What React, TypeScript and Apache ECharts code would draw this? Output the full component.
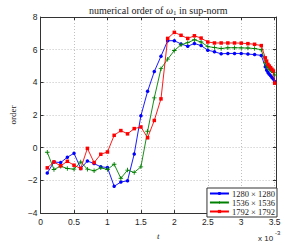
import React, { useEffect, useRef } from "react";
import * as echarts from "echarts";

const times = [0.1, 0.2, 0.3, 0.4, 0.5, 0.6, 0.7, 0.8, 0.9, 1.0, 1.1, 1.2, 1.3, 1.4, 1.5, 1.6, 1.7, 1.8, 1.9, 2.0, 2.1, 2.2, 2.3, 2.4, 2.5, 2.6, 2.7, 2.8, 2.9, 3.0, 3.1, 3.2, 3.3, 3.36, 3.38, 3.4, 3.42, 3.44, 3.46, 3.48, 3.5];

const order1280 = [-1.55, -0.87, -0.91, -0.58, -0.34, -1.27, -0.81, -0.97, -1.17, -1.21, -2.36, -2.1, -2.02, -0.38, 1.96, 3.45, 4.66, 5.6, 6.55, 6.55, 6.35, 6.21, 6.38, 6.25, 5.97, 5.87, 5.75, 5.77, 5.77, 5.77, 5.73, 5.7, 5.65, 4.95, 4.75, 4.6, 4.5, 4.4, 4.3, 4.2, 4.05];
const order1536 = [-0.28, -1.33, -1.13, -1.27, -1.31, -0.87, -1.31, -1.41, -1.23, -1.33, -1.01, -1.87, -1.37, -1.51, -1.17, 1.01, 3.05, 4.84, 5.42, 5.95, 6.3, 6.43, 6.61, 6.47, 6.19, 6.13, 6.07, 6.12, 6.12, 6.11, 6.1, 6.07, 6.0, 5.2, 5.0, 4.9, 4.8, 4.75, 4.7, 4.6, 4.45];
const order1792 = [-1.23, -0.87, -1.11, -0.83, -1.07, -1.27, -0.04, -0.91, -0.4, -0.26, 0.76, 1.05, 0.85, 1.17, 1.27, 0.61, 1.67, 2.99, 6.69, 7.06, 6.88, 6.69, 6.85, 6.71, 6.47, 6.41, 6.41, 6.41, 6.41, 6.4, 6.37, 6.33, 6.25, 5.5, 5.3, 5.1, 5.0, 4.9, 4.8, 4.7, 3.95];

const seriesNames = ["1280 × 1280", "1536 × 1536", "1792 × 1792"];
const seriesColors = ["#0000ff", "#008000", "#ff0000"];

const PLUS = "path://M1.6,0H2.4V1.6H4V2.4H2.4V4H1.6V2.4H0V1.6H1.6Z";

export default function App() {
  const ref = useRef<HTMLDivElement>(null);
  useEffect(() => {
    const chart = echarts.init(ref.current!, null, { renderer: "svg" });
    const sans = "Liberation Sans";
    const serif = "Liberation Serif";
    const axisCol = "#333";
    const pair = (ys: number[]) => times.map((t, i) => [t, ys[i]]);
    const values = [order1280, order1536, order1792];
    const symbols = ["circle", PLUS, "rect"];
    const sizes = [3.5, 4.5, 3.5];
    const commonX = {
      type: "value",
      min: 0,
      max: 3.52,
      interval: 0.5,
      axisLine: { show: true, onZero: false, lineStyle: { color: axisCol, width: 1 } },
      axisTick: { show: true, inside: true, length: 3, lineStyle: { color: axisCol } },
    };
    const commonY = {
      type: "value",
      min: -4,
      max: 8,
      interval: 2,
      axisLine: { show: true, onZero: false, lineStyle: { color: axisCol, width: 1 } },
      axisTick: { show: true, inside: true, length: 3, lineStyle: { color: axisCol } },
    };
    chart.setOption({
      animation: false,
      backgroundColor: "#fff",
      title: {
        text: "{a|numerical order of }{w|ω}{s|1}{a| in sup-norm}",
        left: 84,
        top: 0,
        textStyle: {
          fontWeight: "normal",
          rich: {
            a: { fontFamily: serif, fontSize: 10, fontWeight: "normal", color: "#222" },
            w: { fontFamily: serif, fontSize: 10, fontWeight: "normal", fontStyle: "italic", color: "#222" },
            s: { fontFamily: serif, fontSize: 7, fontWeight: "normal", color: "#222", padding: [4, 0, 0, 0] },
          },
        },
      },
      grid: { left: 22, right: 9, top: 17, bottom: 24.5, containLabel: false },
      xAxis: [
        {
          ...commonX,
          position: "bottom",
          name: "t",
          nameLocation: "middle",
          nameGap: 15,
          nameTextStyle: { fontFamily: serif, fontStyle: "italic", fontSize: 9, color: "#222" },
          axisLabel: {
            show: true,
            showMaxLabel: false,
            margin: 4,
            fontFamily: sans,
            fontSize: 8.5,
            color: "#222",
            formatter: (v: number) => String(v),
          },
          splitLine: { show: true, lineStyle: { color: "#c0c0c0", type: [1, 2], width: 1 } },
        },
        { ...commonX, position: "top", axisLabel: { show: false }, splitLine: { show: false } },
      ],
      yAxis: [
        {
          ...commonY,
          position: "left",
          name: "order",
          nameLocation: "middle",
          nameGap: 15,
          nameRotate: 90,
          nameTextStyle: { fontFamily: serif, fontSize: 9, color: "#222" },
          axisLabel: {
            show: true,
            margin: 3,
            fontFamily: sans,
            fontSize: 8.5,
            color: "#222",
            formatter: (v: number) => (v < 0 ? "−" + Math.abs(v) : String(v)),
          },
          splitLine: { show: true, lineStyle: { color: "#c0c0c0", type: [1, 2], width: 1 } },
        },
        { ...commonY, position: "right", axisLabel: { show: false }, splitLine: { show: false } },
      ],
      legend: {
        orient: "vertical",
        right: 8,
        bottom: 28,
        backgroundColor: "#fff",
        borderColor: "#333",
        borderWidth: 1,
        borderRadius: 0,
        padding: [1, 2, 1, 2],
        itemGap: 0,
        itemWidth: 19,
        itemHeight: 4,
        textStyle: { fontFamily: serif, fontSize: 8.5, lineHeight: 8, color: "#222", padding: [0, 0, 0, -2] },
        data: seriesNames,
      },
      series: seriesNames.map((name, i) => ({
        name,
        type: "line",
        data: pair(values[i]),
        symbol: symbols[i],
        symbolSize: sizes[i],
        showSymbol: true,
        lineStyle: { color: seriesColors[i], width: 0.9 },
        itemStyle: { color: seriesColors[i] },
        z: 2 + i,
      })),
      graphic: [
        { type: "text", left: 258, top: 234, style: { text: "x 10", fontFamily: sans, fontSize: 8, fill: "#222" } },
        { type: "text", left: 275, top: 230, style: { text: "-3", fontFamily: sans, fontSize: 6, fill: "#222" } },
      ],
    });
    return () => chart.dispose();
  }, []);
  return <div ref={ref} style={{ width: 285, height: 245, position: "absolute", left: 0, top: 0 }} />;
}
